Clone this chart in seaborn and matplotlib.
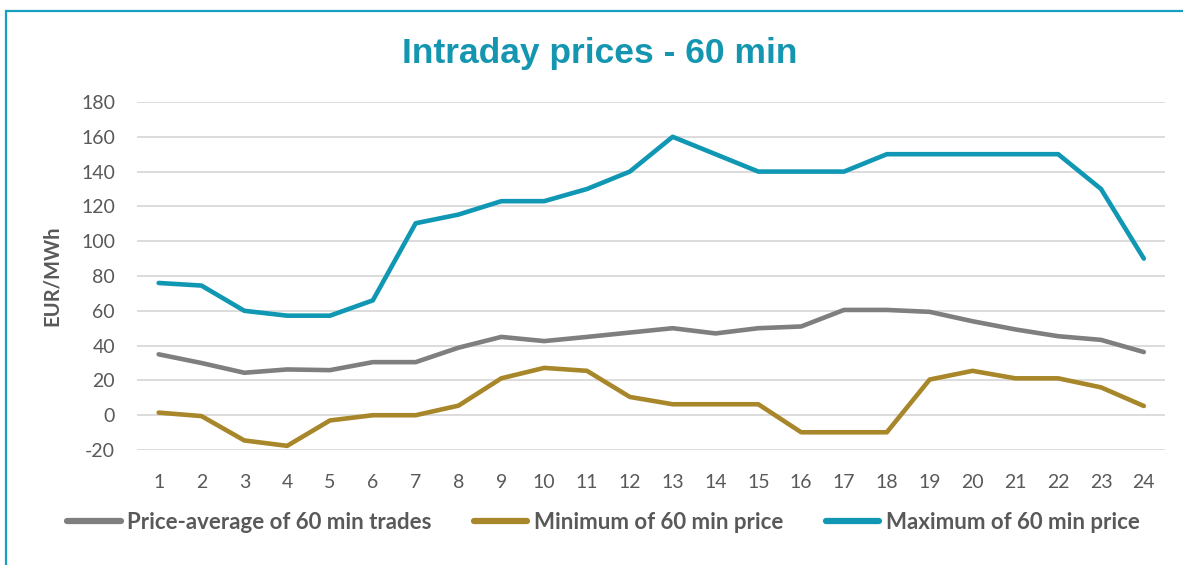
import matplotlib
matplotlib.use("Agg")

import matplotlib.pyplot as plt
import numpy as np
import pandas as pd
import seaborn as sns
from matplotlib.patches import Rectangle

# Datos
hours = list(range(1, 25))
avg_price = [35, 30, 24.4, 26.3, 25.9, 30.5, 30.5, 38.8, 45, 42.6, 45, 47.5,
             50, 47, 50, 51, 60.5, 60.5, 59.4, 54, 49.3, 45.4, 43.3, 36.3]
min_price = [1.5, -0.5, -14.5, -17.6, -3, 0, 0, 5.5, 21.2, 27.2, 25.5, 10.5,
             6.3, 6.3, 6.3, -9.8, -9.8, -9.8, 20.5, 25.5, 21.2, 21.2, 16, 5.3]
max_price = [76, 74.5, 60, 57.2, 57.2, 66, 110.3, 115.3, 123, 123, 130, 140,
             160, 150, 140, 140, 140, 150, 150, 150, 150, 150, 130, 90]

series_names = ["Price-average of 60 min trades", "Minimum of 60 min price",
                "Maximum of 60 min price"]
colors = ["#7f7f7f", "#a8862a", "#0f97b3"]
yticks = list(range(-20, 181, 20))

df = pd.DataFrame({
    "hour": hours * 3,
    "price": avg_price + min_price + max_price,
    "serie": np.repeat(series_names, len(hours)),
})

sns.set_style("white")
plt.rcParams["font.family"] = ["Lato", "DejaVu Sans"]
plt.rcParams["axes.unicode_minus"] = False

fig = plt.figure(figsize=(11.83, 5.65), dpi=100)
ax = fig.add_axes([0.116, 0.2035, 0.869, 0.616])

sns.lineplot(data=df, x="hour", y="price", hue="serie", hue_order=series_names,
             palette=colors, linewidth=3.3, ax=ax, legend=True)

ax.set_xlim(0.5, 24.5)
ax.set_ylim(-20, 180)
ax.set_yticks(yticks)
ax.set_xticks(hours)
ax.tick_params(axis="both", labelsize=14, labelcolor="#595959", length=0)
ax.tick_params(axis="y", pad=16)
ax.tick_params(axis="x", pad=17)
ax.grid(True, axis="y", color="#d9d9d9", linewidth=1.3)
ax.set_axisbelow(True)
for side in ax.spines.values():
    side.set_visible(False)
ax.set_xlabel("")
ax.set_ylabel("EUR/MWh", fontsize=14.5, fontweight="bold", color="#595959", labelpad=14)

fig.text(0.507, 0.905, "Intraday prices - 60 min", ha="center", va="center",
         fontsize=25.5, fontweight="bold", color="#1596b0",
         family=["Liberation Sans", "DejaVu Sans"])

leg = ax.legend(loc="center", ncol=3, frameon=False, handlelength=2.4,
                handletextpad=0.3, columnspacing=1.9,
                prop={"size": 16, "weight": "bold"}, labelcolor="#595959")
leg.set_bbox_to_anchor((0.51, 0.076), transform=fig.transFigure)
for line in leg.get_lines():
    line.set_linewidth(4.5)

# Marco exterior
fig.patches.append(Rectangle((6 / 1183, -0.05), 1.1, 1 - 10.5 / 565 + 0.05,
                             transform=fig.transFigure, fill=False,
                             edgecolor="#17a0bd", linewidth=1.6))

fig.savefig("out.png", dpi=100)
plt.close(fig)
